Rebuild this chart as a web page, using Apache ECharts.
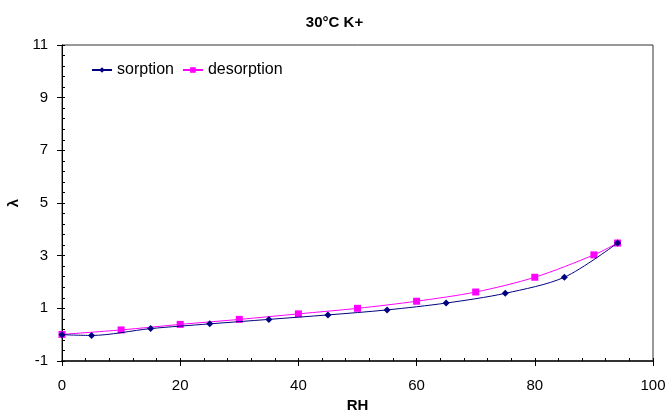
<!DOCTYPE html>
<html><head><meta charset="utf-8">
<script src="https://cdn.jsdelivr.net/npm/echarts@6/dist/echarts.min.js"></script>
<style>html,body{margin:0;padding:0;background:#fff}#c{width:669px;height:412px}</style>
</head><body><div id="c"></div>
<script>
var titleText = '30°C K+';
var xName = 'RH';
var yName = 'λ';
var seriesNames = ['sorption', 'desorption'];
var sorptionRH = [0, 5, 15, 25, 35, 45, 55, 65, 75, 85, 94];
var sorptionVal = [0.0, -0.03, 0.23, 0.41, 0.58, 0.75, 0.94, 1.2, 1.57, 2.18, 3.48];
var desorptionRH = [0, 10, 20, 30, 40, 50, 60, 70, 80, 90, 94];
var desorptionVal = [0.01, 0.18, 0.39, 0.58, 0.79, 1.0, 1.27, 1.62, 2.18, 3.03, 3.48];

function pairs(xs, ys) { return xs.map(function (x, i) { return [x, ys[i]]; }); }

var font = 'Liberation Sans, Arial, sans-serif';
var X = {min: 0, max: 100, interval: 20};
var Y = {min: -1, max: 11, interval: 2};
var chart = echarts.init(document.getElementById('c'), null, {renderer: 'canvas'});

function baseAxis(r, extra) {
  var a = {type: 'value', gridIndex: 0, min: r.min, max: r.max, interval: r.interval, offset: 0,
    splitLine: {show: false}, axisLabel: {show: false}, axisLine: {show: false, onZero: false},
    axisTick: {show: false}, minorTick: {show: false}};
  for (var k in extra) a[k] = extra[k];
  return a;
}

chart.setOption({
  animation: false,
  title: {text: titleText, left: 'center', top: 10, textStyle: {fontFamily: font, fontSize: 15, fontWeight: 'bold', color: '#000'}},
  legend: {
    data: seriesNames, left: 86, top: 57, itemWidth: 20, itemHeight: 7, itemGap: 8,
    textStyle: {fontFamily: font, fontSize: 16, color: '#000'}
  },
  grid: {left: 62, right: 16, top: 45, bottom: 51, containLabel: false, outerBoundsMode: 'none',
    show: true, borderColor: '#333', borderWidth: 1, backgroundColor: 'rgba(0,0,0,0)'},
  xAxis: [
    baseAxis(X, {
      position: 'bottom',
      name: xName, nameLocation: 'middle', nameGap: 31,
      nameTextStyle: {fontFamily: font, fontSize: 15, fontWeight: 'bold', color: '#000'},
      axisLine: {show: true, onZero: false, lineStyle: {color: '#333', width: 2}},
      axisTick: {show: true, inside: false, length: 5, lineStyle: {color: '#000'}},
      axisLabel: {show: true, fontFamily: font, fontSize: 15, color: '#000', margin: 17}
    }),
    baseAxis(X, {
      position: 'bottom',
      axisTick: {show: true, inside: true, length: 3, lineStyle: {color: '#000'}},
      minorTick: {show: true, splitNumber: 5, length: 3, lineStyle: {color: '#000'}}
    })
  ],
  yAxis: [
    baseAxis(Y, {
      position: 'left',
      name: yName, nameLocation: 'middle', nameGap: 39, nameRotate: 90,
      nameTextStyle: {fontFamily: font, fontSize: 15, fontWeight: 'bold', color: '#000'},
      axisLine: {show: true, onZero: false, lineStyle: {color: '#000', width: 1}},
      axisTick: {show: true, inside: false, length: 5, lineStyle: {color: '#000'}},
      axisLabel: {show: true, fontFamily: font, fontSize: 15, color: '#000', margin: 14}
    }),
    baseAxis(Y, {
      position: 'left',
      axisTick: {show: true, inside: true, length: 3, lineStyle: {color: '#000'}},
      minorTick: {show: true, splitNumber: 5, length: 3, lineStyle: {color: '#000'}}
    })
  ],
  series: [{
    name: seriesNames[0], type: 'line', data: pairs(sorptionRH, sorptionVal),
    xAxisIndex: 0, yAxisIndex: 0,
    smooth: 0.3, symbol: 'diamond', symbolSize: 7,
    lineStyle: {color: '#000080', width: 1}, itemStyle: {color: '#000080'}, z: 3
  }, {
    name: seriesNames[1], type: 'line', data: pairs(desorptionRH, desorptionVal),
    xAxisIndex: 0, yAxisIndex: 0,
    smooth: 0.3, symbol: 'rect', symbolSize: 7,
    lineStyle: {color: '#FF00FF', width: 1}, itemStyle: {color: '#FF00FF'}, z: 2
  }]
});
</script></body></html>
